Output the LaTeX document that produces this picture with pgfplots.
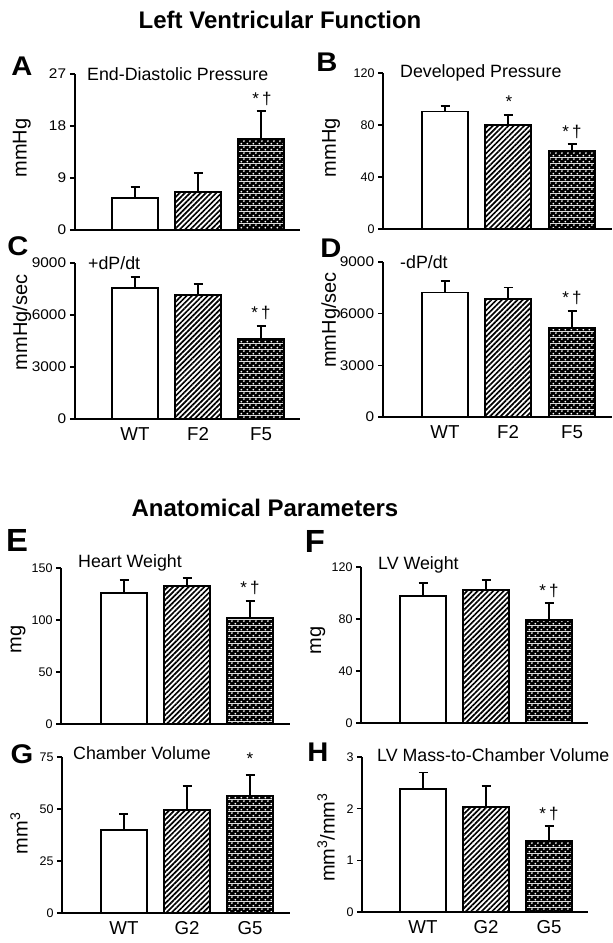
\documentclass[border=0pt]{standalone}
\usepackage{fontspec}
\setmainfont{Liberation Sans}
\usepackage{pgfplots}
\pgfplotsset{compat=1.18}
\usetikzlibrary{patterns,patterns.meta}

\pgfdeclarepatterninherentlycolored{bwdots}{\pgfpointorigin}{\pgfqpoint{6pt}{6pt}}{\pgfqpoint{6pt}{6pt}}{%
  \pgfsetfillcolor{black}%
  \pgfpathrectangle{\pgfpointorigin}{\pgfqpoint{6pt}{6pt}}%
  \pgfusepath{fill}%
  \pgfsetfillcolor{white}%
  \pgfpathcircle{\pgfqpoint{1.5pt}{1.5pt}}{1.1pt}%
  \pgfpathcircle{\pgfqpoint{4.5pt}{4.5pt}}{1.1pt}%
  \pgfusepath{fill}%
}

\tikzset{
  wtbar/.style={fill=white},
  hatchbar/.style={pattern={Lines[angle=45,distance=3.7pt,line width=1.7pt]}, pattern color=black},
  dotbar/.style={pattern=bwdots},
  sig/.style={anchor=base, font=\fontsize{17}{20}\selectfont, inner sep=0pt},
  sub/.style={anchor=west, font=\fontsize{17.8}{21}\selectfont, inner sep=0pt},
  letter/.style={font=\bfseries\fontsize{27}{31}\selectfont, inner sep=0pt, xscale=1.08},
}
\newcommand{\sd}{*\hspace{3pt}†}

\pgfplotsset{
  panel/.style={scale only axis, anchor=south west,
    axis x line=bottom, axis y line=left,
    axis line style={-, line width=1.9pt, black},
    enlargelimits=false, clip=false,
    tick align=outside, major tick length=5pt,
    ytick style={line width=1.6pt, black},
    xtick style={draw=none},
    xtick=\empty, ymin=0,
    tick label style={font=\fontsize{12.5}{15}\selectfont},
    xticklabel style={font=\fontsize{18.7}{22}\selectfont},
    /pgf/number format/assume math mode=true,
    /pgf/number format/1000 sep={},
    scaled y ticks=false,
    ylabel style={font=\fontsize{20}{24}\selectfont, anchor=center},
  },
  bigticks/.style={yticklabel style={font=\fontsize{14}{16}\selectfont, xscale=1.1}},
  mybar/.style={ybar, bar width=46pt, bar shift=0pt, draw=black, line width=1.9pt,
    error bars/y dir=plus, error bars/y explicit,
    error bars/error bar style={line width=1.9pt, black},
    error bars/error mark options={rotate=90, line width=1.9pt, black, mark size=4.5pt}},
}

\begin{document}
\begin{tikzpicture}
\path[use as bounding box] (0,0) rectangle (613pt,943pt);

\node[font=\bfseries\fontsize{24}{28}\selectfont] at (280pt,923pt) {Left Ventricular Function};
\node[font=\bfseries\fontsize{24}{28}\selectfont] at (265pt,435pt) {Anatomical Parameters};

\node[letter] at (22pt,877pt) {A};
\node[letter] at (327pt,881pt) {B};
\node[letter] at (18pt,697pt) {C};
\node[letter] at (331pt,695pt) {D};
\node[letter, xscale=0.95, font=\bfseries\fontsize{32}{36}\selectfont] at (17pt,403pt) {E};
\node[letter, xscale=0.95, font=\bfseries\fontsize{32}{36}\selectfont] at (315pt,402pt) {F};
\node[letter] at (22pt,189pt) {G};
\node[letter] at (318pt,191pt) {H};

% A
\begin{axis}[panel, bigticks, at={(75pt,713pt)}, width=225pt, height=156pt,
  xmin=75, xmax=300, ymax=27, ytick={0,9,18,27},
  ylabel={mmHg}, ylabel style={at={(axis description cs:-0.236,0.526)}}]
\addplot[mybar, wtbar] coordinates {(135,5.5) +- (0,1.9)};
\addplot[mybar, hatchbar] coordinates {(198,6.6) +- (0,3.3)};
\addplot[mybar, dotbar] coordinates {(261,15.8) +- (0,4.8)};
\node[sub] at (axis cs:87,27) {End-Diastolic Pressure};
\node[sig, yshift=6pt] at (axis cs:262,20.6) {\sd};
\end{axis}

% B
\begin{axis}[panel, at={(383pt,714pt)}, width=229pt, height=156pt,
  xmin=383, xmax=612, ymax=120, ytick={0,40,80,120},
  ylabel={mmHg}, ylabel style={at={(axis description cs:-0.227,0.52)}}]
\addplot[mybar, wtbar] coordinates {(445,90.4) +- (0,4.3)};
\addplot[mybar, hatchbar] coordinates {(508,80.0) +- (0,7.8)};
\addplot[mybar, dotbar] coordinates {(572,60.2) +- (0,5.3)};
\node[sub] at (axis cs:400,120) {Developed Pressure};
\node[sig, yshift=7pt] at (axis cs:509,87.8) {*};
\node[sig, yshift=6pt] at (axis cs:572,65.5) {\sd};
\end{axis}

% C
\begin{axis}[panel, bigticks, at={(75pt,524pt)}, width=225pt, height=156pt,
  xmin=75, xmax=300, ymax=9000, ytick={0,3000,6000,9000},
  xtick={135,198,261}, xticklabels={WT,F2,F5},
  ylabel={mmHg/sec}, ylabel style={at={(axis description cs:-0.236,0.62)}}]
\addplot[mybar, wtbar] coordinates {(135,7560) +- (0,630)};
\addplot[mybar, hatchbar] coordinates {(198,7140) +- (0,630)};
\addplot[mybar, dotbar] coordinates {(261,4620) +- (0,770)};
\node[sub] at (axis cs:88,9000) {+dP/dt};
\node[sig, yshift=7pt] at (axis cs:261,5390) {\sd};
\end{axis}

% D
\begin{axis}[panel, bigticks, at={(383pt,526pt)}, width=229pt, height=155pt,
  xmin=383, xmax=612, ymax=9000, ytick={0,3000,6000,9000},
  xtick={445,508,572}, xticklabels={WT,F2,F5},
  ylabel={mmHg/sec}, ylabel style={at={(axis description cs:-0.228,0.626)}}]
\addplot[mybar, wtbar] coordinates {(445,7230) +- (0,670)};
\addplot[mybar, hatchbar] coordinates {(508,6850) +- (0,670)};
\addplot[mybar, dotbar] coordinates {(572,5190) +- (0,990)};
\node[sub] at (axis cs:400,9000) {-dP/dt};
\node[sig, yshift=7pt] at (axis cs:572,6180) {\sd};
\end{axis}

% E
\begin{axis}[panel, at={(61pt,219pt)}, width=229pt, height=156pt,
  xmin=61, xmax=290, ymax=150, ytick={0,50,100,150},
  ylabel={mg}, ylabel style={at={(axis description cs:-0.188,0.54)}}]
\addplot[mybar, wtbar] coordinates {(124,125.9) +- (0,12.5)};
\addplot[mybar, hatchbar] coordinates {(187,133.0) +- (0,7.0)};
\addplot[mybar, dotbar] coordinates {(250,101.8) +- (0,16.7)};
\node[sub, yshift=5pt] at (axis cs:78,150) {Heart Weight};
\node[sig, yshift=7pt] at (axis cs:250,118.5) {\sd};
\end{axis}

% F
\begin{axis}[panel, at={(361pt,220pt)}, width=227pt, height=156pt,
  xmin=361, xmax=588, ymax=120, ytick={0,40,80,120},
  ylabel={mg}, ylabel style={at={(axis description cs:-0.19,0.53)}}]
\addplot[mybar, wtbar] coordinates {(423,97.7) +- (0,10.3)};
\addplot[mybar, hatchbar] coordinates {(486,102.0) +- (0,7.7)};
\addplot[mybar, dotbar] coordinates {(549,79.3) +- (0,12.8)};
\node[sub, yshift=2pt] at (axis cs:378,120) {LV Weight};
\node[sig, yshift=7pt] at (axis cs:549,92.1) {\sd};
\end{axis}

% G
\begin{axis}[panel, at={(62pt,30pt)}, width=228pt, height=156pt,
  xmin=62, xmax=290, ymax=75, ytick={0,25,50,75},
  xtick={124,187,250}, xticklabels={WT,G2,G5},
  ylabel={mm\textsuperscript{3}}, ylabel style={at={(axis description cs:-0.189,0.51)}}]
\addplot[mybar, wtbar] coordinates {(124,39.8) +- (0,7.9)};
\addplot[mybar, hatchbar] coordinates {(187,49.5) +- (0,11.5)};
\addplot[mybar, dotbar] coordinates {(250,56.5) +- (0,9.7)};
\node[sub, yshift=4pt] at (axis cs:73,75) {Chamber Volume};
\node[sig, yshift=11pt] at (axis cs:250,66.2) {*};
\end{axis}

% H
\begin{axis}[panel, at={(362pt,31pt)}, width=226pt, height=155pt,
  xmin=362, xmax=588, ymax=3, ytick={0,1,2,3},
  xtick={423,486,549}, xticklabels={WT,G2,G5},
  ylabel={mm\textsuperscript{3}/mm\textsuperscript{3}}, ylabel style={at={(axis description cs:-0.159,0.48)}}]
\addplot[mybar, wtbar] coordinates {(423,2.38) +- (0,0.32)};
\addplot[mybar, hatchbar] coordinates {(486,2.03) +- (0,0.40)};
\addplot[mybar, dotbar] coordinates {(549,1.37) +- (0,0.30)};
\node[sub, yshift=2pt] at (axis cs:377,3) {LV Mass-to-Chamber Volume};
\node[sig, yshift=6pt] at (axis cs:549,1.67) {\sd};
\end{axis}
\end{tikzpicture}
\end{document}
